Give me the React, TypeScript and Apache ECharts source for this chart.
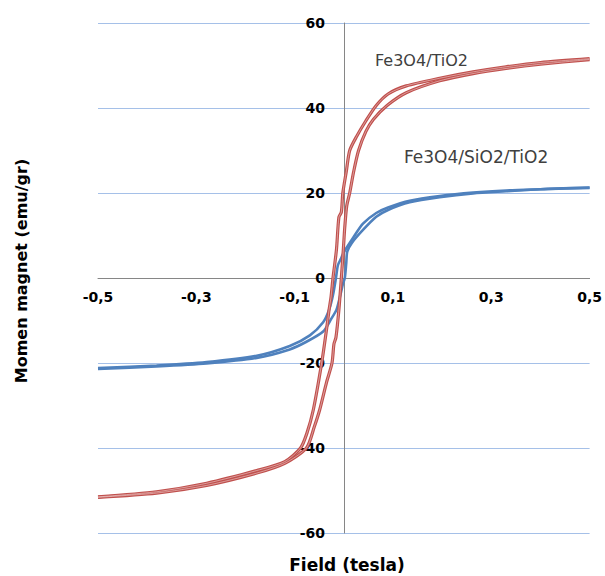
import React, { useEffect, useRef } from "react";
import * as echarts from "echarts";

// Fe3O4/TiO2 hysteresis loop (red)
const redDownX = [0.5, 0.4, 0.33, 0.263, 0.195, 0.127, 0.09, 0.066, 0.045, 0.026, 0.012, 0.005, -0.002, -0.005, -0.01, -0.015, -0.022, -0.026, -0.03, -0.035, -0.045, -0.062, -0.075, -0.088, -0.12, -0.177, -0.279, -0.381, -0.5];
const redDownY = [51.6, 50.7, 49.7, 48.5, 47.0, 45.2, 43.3, 40.6, 37.0, 33.3, 30.0, 25.0, 20.0, 15.5, 14.3, 6.6, 0.0, -4.5, -7.5, -12.0, -20.0, -31.0, -36.5, -40.0, -43.2, -45.3, -48.3, -50.3, -51.5];
const redUpX = [-0.5, -0.381, -0.279, -0.177, -0.12, -0.076, -0.06, -0.049, -0.035, -0.024, -0.02, -0.016, -0.01, -0.005, -0.001, 0.002, 0.006, 0.012, 0.02, 0.03, 0.045, 0.06, 0.088, 0.127, 0.195, 0.263, 0.33, 0.4, 0.5];
const redUpY = [-51.6, -50.6, -48.8, -45.9, -43.6, -40.0, -35.0, -31.0, -24.5, -20.0, -15.5, -14.0, -7.5, 0.0, 6.6, 12.0, 17.0, 20.0, 25.0, 30.0, 34.5, 37.3, 40.6, 43.6, 46.4, 48.1, 49.3, 50.3, 51.4];

// Fe3O4/SiO2/TiO2 hysteresis loop (blue)
const blueDownX = [0.5, 0.4, 0.33, 0.263, 0.195, 0.134, 0.09, 0.066, 0.039, 0.019, 0.005, -0.001, -0.006, -0.012, -0.016, -0.022, -0.03, -0.042, -0.069, -0.11, -0.177, -0.279, -0.381, -0.5];
const blueDownY = [21.3, 20.9, 20.6, 20.1, 19.3, 18.2, 16.6, 15.3, 12.8, 9.5, 7.0, 5.8, 4.5, 3.0, 0.0, -4.0, -7.5, -10.4, -13.5, -16.0, -18.3, -19.8, -20.6, -21.2];
const blueUpX = [-0.5, -0.381, -0.279, -0.177, -0.11, -0.076, -0.042, -0.025, -0.015, -0.008, -0.002, 0.002, 0.005, 0.007, 0.016, 0.039, 0.066, 0.09, 0.134, 0.195, 0.263, 0.33, 0.4, 0.5];
const blueUpY = [-21.4, -20.8, -20.1, -18.8, -16.8, -15.0, -12.6, -9.5, -7.5, -4.5, -1.5, 0.0, 3.5, 6.2, 8.2, 11.3, 14.4, 16.0, 17.8, 19.0, 19.9, 20.4, 20.9, 21.2];

const seriesNames = ["Fe3O4/TiO2", "Fe3O4/SiO2/TiO2"];
const xTitle = "Field (tesla)";
const yTitle = "Momen magnet (emu/gr)";

const pairs = (xs: number[], ys: number[]) => xs.map((x, i) => [x, ys[i]]);

const RED = "#c0504d";
const BLUE = "#4f81bd";

const GRID_LEFT = 98;
const GRID_RIGHT = 15;
const GRID_TOP = 23;
const GRID_BOTTOM = 43;
const W = 605;
const H = 576;

export default function App() {
  const ref = useRef<HTMLDivElement>(null);
  useEffect(() => {
    if (!ref.current) return;
    const chart = echarts.init(ref.current, null, { renderer: "svg" });
    const plotW = W - GRID_LEFT - GRID_RIGHT;
    const plotH = H - GRID_TOP - GRID_BOTTOM;
    const redLine = (name: string, data: number[][]) => [
      {
        name,
        type: "line",
        data,
        showSymbol: false,
        smooth: 0.25,
        lineStyle: { color: RED, width: 3.2 },
        z: 3,
      },
      {
        type: "line",
        data,
        showSymbol: false,
        smooth: 0.25,
        lineStyle: { color: "rgba(255,255,255,0.55)", width: 0.8 },
        z: 4,
        silent: true,
      },
    ];
    const blueLine = (name: string, data: number[][]) => ({
      name,
      type: "line",
      data,
      showSymbol: false,
      smooth: 0.25,
      lineStyle: { color: BLUE, width: 2.6 },
      z: 2,
    });
    chart.setOption({
      animation: false,
      backgroundColor: "#ffffff",
      grid: { left: GRID_LEFT, right: GRID_RIGHT, top: GRID_TOP, bottom: GRID_BOTTOM },
      xAxis: {
        type: "value",
        position: "bottom",
        offset: -plotH / 2,
        min: -0.5,
        max: 0.5,
        interval: 0.2,
        axisLine: { onZero: false, lineStyle: { color: "#868686", width: 1 } },
        axisTick: { show: false },
        splitLine: { show: false },
        axisLabel: {
          margin: 12,
          color: "#000",
          fontFamily: "DejaVu Sans",
          fontWeight: "bold",
          fontSize: 14,
          formatter: (v: number) => v.toFixed(1).replace(".", ","),
        },
      },
      yAxis: {
        type: "value",
        position: "left",
        offset: -plotW / 2,
        min: -60,
        max: 60,
        interval: 20,
        axisLine: { show: true, onZero: false, lineStyle: { color: "#868686", width: 1 } },
        axisTick: { show: false },
        splitLine: { show: true, lineStyle: { color: "#a5c0e8", width: 1 } },
        axisLabel: {
          margin: 19,
          color: "#000",
          fontFamily: "DejaVu Sans",
          fontWeight: "bold",
          fontSize: 14,
        },
      },
      series: [
        blueLine(seriesNames[1], pairs(blueDownX, blueDownY)),
        blueLine(seriesNames[1], pairs(blueUpX, blueUpY)),
        ...redLine(seriesNames[0], pairs(redDownX, redDownY)),
        ...redLine(seriesNames[0], pairs(redUpX, redUpY)),
      ],
      graphic: [
        {
          type: "text",
          x: 375,
          y: 60,
          style: {
            text: seriesNames[0],
            fill: "#404040",
            font: "16px 'DejaVu Sans'",
            verticalAlign: "middle",
          },
        },
        {
          type: "text",
          x: 404,
          y: 157,
          style: {
            text: seriesNames[1],
            fill: "#404040",
            font: "17px 'DejaVu Sans'",
            verticalAlign: "middle",
          },
        },
        {
          type: "text",
          x: 347,
          y: 565,
          style: {
            text: xTitle,
            fill: "#000",
            font: "bold 17px 'DejaVu Sans'",
            align: "center",
            verticalAlign: "middle",
          },
        },
        {
          type: "text",
          x: 21,
          y: 271,
          rotation: Math.PI / 2,
          style: {
            text: yTitle,
            fill: "#000",
            font: "bold 16px 'DejaVu Sans'",
            align: "center",
            verticalAlign: "middle",
          },
        },
      ],
    });
    return () => chart.dispose();
  }, []);
  return <div ref={ref} style={{ width: W, height: H, position: "absolute", left: 0, top: 0 }} />;
}
